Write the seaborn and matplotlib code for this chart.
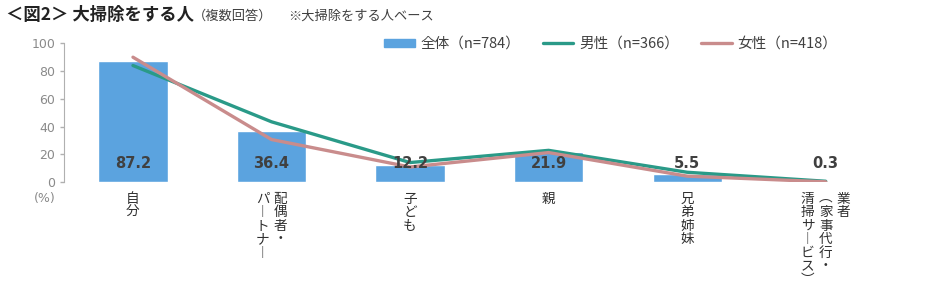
import matplotlib
matplotlib.use("Agg")
import matplotlib.pyplot as plt
import seaborn as sns
import pandas as pd
from matplotlib.patches import Patch
from matplotlib.lines import Line2D

categories = ["自分", "配偶者・パートナー", "子ども", "親", "兄弟姉妹", "業者（家事代行・清掃サービス）"]
# vertical tick label columns (right to left)
label_columns = [
    ["自分"],
    ["配偶者・", "パ︱トナ︱"],
    ["子ども"],
    ["親"],
    ["兄弟姉妹"],
    ["業者", "︵家事代行・", "清掃サ︱ビス︶"],
]
total = [87.2, 36.4, 12.2, 21.9, 5.5, 0.3]
male = [84.0, 43.4, 14.0, 22.8, 7.0, 0.5]
female = [90.0, 30.6, 10.8, 21.2, 4.2, 0.1]
series_names = ["全体（n=784）", "男性（n=366）", "女性（n=418）"]
y_ticks = [0, 20, 40, 60, 80, 100]

sns.set_style("white")
plt.rcParams['font.family'] = ['Noto Sans CJK JP', 'DejaVu Sans']

BAR = "#5ba3df"
MALE = "#2a9a88"
FEMALE = "#c98c8c"
GRAY = "#8a8a8a"

fig = plt.figure(figsize=(9.34, 2.87), dpi=100)
ax = fig.add_axes([0.0682, 0.366, 0.890, 0.483])

df = pd.DataFrame({"cat": categories, "total": total, "male": male, "female": female})
sns.barplot(data=df, x="cat", y="total", color=BAR, width=0.5, ax=ax, saturation=1)
sns.lineplot(data=df, x="cat", y="male", color=MALE, lw=2.4, ax=ax, sort=False)
sns.lineplot(data=df, x="cat", y="female", color=FEMALE, lw=2.4, ax=ax, sort=False)

ax.set_xlim(-0.5, 5.5)
ax.set_ylim(0, 100)
ax.set_yticks(y_ticks)
ax.set_yticklabels([str(t) for t in y_ticks], color=GRAY, fontsize=9, family=['DejaVu Sans'])
ax.tick_params(axis='y', length=3, color="#b0b0b0", width=1, pad=3, left=True)
ax.set_xticks([])
ax.set_xlabel("")
ax.set_ylabel("")
for s in ["top", "right", "bottom"]:
    ax.spines[s].set_visible(False)
ax.spines["left"].set_color("#b0b0b0")

# value labels
for i, v in enumerate(total):
    ax.text(i, 13.5, f"{v:.1f}", ha="center", va="center", fontsize=10.5,
            fontweight="bold", color="#404040", family=['DejaVu Sans'])

# vertical category labels
col_step = 0.13
for i, cols in enumerate(label_columns):
    n = len(cols)
    for j, col in enumerate(cols):
        off = ((n - 1) / 2 - j) * col_step
        ax.text(i + off, -0.07, "\n".join(col), transform=ax.get_xaxis_transform(),
                ha="center", va="top", fontsize=9.8, color="#303030", linespacing=0.96)

ax.text(-0.0225, -0.075, "(%)", transform=ax.transAxes, ha="center", va="top",
        fontsize=9, color=GRAY, family=['DejaVu Sans'])

handles = [Patch(facecolor=BAR, edgecolor=BAR),
           Line2D([0], [0], color=MALE, lw=2.4),
           Line2D([0], [0], color=FEMALE, lw=2.4)]
leg = fig.legend(handles, series_names, loc="center", bbox_to_anchor=(0.654, 1 - 44 / 287),
                 ncol=3, frameon=False, fontsize=10.5, handlelength=2.1, handleheight=0.45,
                 handletextpad=0.4, columnspacing=1.5)
for t in leg.get_texts():
    t.set_color("#404040")

fig.text(0.006, 0.948, "＜図2＞ 大掃除をする人", fontsize=12.5, fontweight="bold",
         color="#222222", va="center", ha="left")
fig.text(0.207, 0.945, "（複数回答）", fontsize=9.5, color="#404040", va="center", ha="left")
fig.text(0.308, 0.945, "※大掃除をする人ベース", fontsize=9.5, color="#404040", va="center", ha="left")

fig.savefig("out.png", dpi=100)
